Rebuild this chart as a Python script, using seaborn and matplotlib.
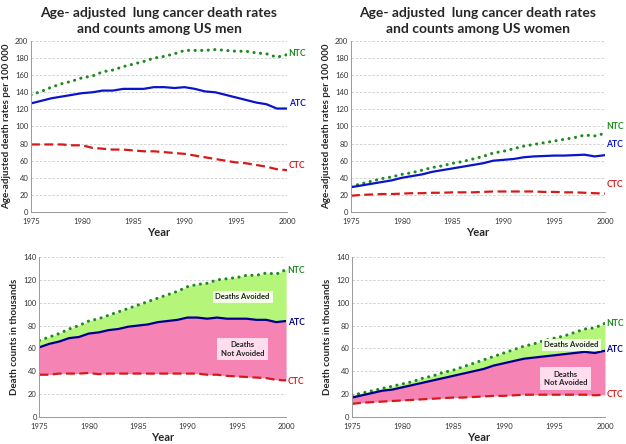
import numpy as np
import pandas as pd
import matplotlib
matplotlib.use("Agg")
import matplotlib.pyplot as plt
import seaborn as sns

years = list(range(1975, 2001))

men_rate_ntc = [137, 141, 146, 150, 153, 157, 159, 164, 166, 170, 173, 176, 180, 182, 185,
                189, 189, 189, 190, 189, 188, 188, 186, 185, 181, 184]
men_rate_atc = [127, 130, 133, 135, 137, 139, 140, 142, 142, 144, 144, 144, 146, 146, 145,
                146, 144, 141, 140, 137, 134, 131, 128, 126, 121, 121]
men_rate_ctc = [79, 79, 79, 79, 78, 78, 75, 74, 73, 73, 72, 71, 71, 70, 69,
                68, 66, 64, 62, 60, 58, 57, 55, 53, 50, 49]

women_rate_ntc = [30, 33, 36, 39, 41, 44, 46, 49, 52, 54, 57, 59, 62, 65, 69,
                  71, 74, 77, 79, 81, 83, 85, 87, 90, 89, 92]
women_rate_atc = [29, 31, 33, 35, 37, 40, 42, 44, 47, 49, 51, 53, 55, 57, 60,
                  61, 62, 64, 65, 65.5, 66, 66, 66.5, 67, 65, 66.5]
women_rate_ctc = [19, 20, 20.5, 21, 21, 21.5, 22, 22, 22.5, 22.5, 23, 23, 23, 23.5, 24,
                  24, 24, 24, 24, 23.5, 23.5, 23, 23, 22.5, 22, 21.5]

men_cnt_ntc = [67, 70, 73, 77, 80, 84, 86, 89, 92, 95, 98, 101, 104, 107, 110,
               114, 116, 117, 120, 121, 122, 124, 124, 126, 125, 129]
men_cnt_atc = [61, 64, 66, 69, 70, 73, 74, 76, 77, 79, 80, 81, 83, 84, 85,
               87, 87, 86, 87, 86, 86, 86, 85, 85, 83, 84]
men_cnt_ctc = [37, 37, 38, 38, 38, 38.5, 37.5, 38, 38, 38, 38, 38, 38, 38, 38,
               38, 38, 37, 37, 36, 35.5, 35, 34.5, 34, 32.5, 32]

women_cnt_ntc = [19, 21, 23, 25, 27, 29, 31, 34, 36, 39, 41, 44, 47, 50, 53,
                 56, 59, 62, 64, 67, 69, 71, 74, 77, 78, 82]
women_cnt_atc = [17, 19, 21, 23, 24, 26, 28, 30, 32, 34, 36, 38, 40, 42, 45,
                 47, 49, 51, 52, 53, 54, 55, 56, 57, 56, 58]
women_cnt_ctc = [11.5, 12.5, 13, 13.5, 14, 14.5, 15, 15.5, 16, 16.5, 17, 17, 17.5, 18, 18.5,
                 18.5, 19, 19.5, 19.5, 19.5, 19.5, 19.5, 19.5, 19.5, 19, 19.5]

titles = ["Age- adjusted  lung cancer death rates\nand counts among US men",
          "Age- adjusted  lung cancer death rates\nand counts among US women"]
ylab_rate = "Age-adjusted death rates per 100 000"
ylab_cnt = "Death counts in thousands"
series_names = ["NTC", "ATC", "CTC"]

sns.set_theme(style="white")
plt.rcParams['font.family'] = ['Lato', 'DejaVu Sans']

GREEN = "#1F8A1F"
BLUE_TOP = "#0A14C8"
BLUE_BOT = "#00008B"
RED = "#D61A1A"
FILL_G = "#B4F57A"
FILL_P = "#F584B4"

fig = plt.figure(figsize=(6.26, 4.44), dpi=100)
pos = {
    "tl": [0.0495, 0.5225, 0.409, 0.3852],
    "tr": [0.5607, 0.5225, 0.4057, 0.3852],
    "bl": [0.063, 0.0608, 0.394, 0.3604],
    "br": [0.5623, 0.0608, 0.4041, 0.3604],
}

def style_axes(ax, ymax, ystep, ylabel):
    ax.set_xlim(1975, 2000)
    ax.set_ylim(0, ymax)
    ax.set_xticks(range(1975, 2001, 5))
    ax.set_yticks(np.arange(0, ymax + 1, ystep))
    ax.tick_params(axis='both', labelsize=5.5, colors="#333333", length=0, pad=2)
    ax.tick_params(axis='x', length=2.5, width=0.6, direction='out', color="#888888", pad=1.5)
    for s in ["top", "right"]:
        ax.spines[s].set_visible(False)
    for s in ["left", "bottom"]:
        ax.spines[s].set_color("#999999")
        ax.spines[s].set_linewidth(0.7)
    ax.yaxis.grid(True, linestyle=(0, (3, 2)), color="#CCCCCC", linewidth=0.6)
    ax.set_axisbelow(True)
    ax.set_ylabel(ylabel, fontsize=7, fontweight='bold', labelpad=3)
    ax.set_xlabel("Year", fontsize=8, fontweight='bold', labelpad=2)

def draw_lines(ax, ntc, atc, ctc, blue, lw):
    df = pd.DataFrame({"year": years, "NTC": ntc, "ATC": atc, "CTC": ctc})
    sns.lineplot(data=df, x="year", y="NTC", ax=ax, color=GREEN, linewidth=2.2,
                 linestyle=(0, (0.05, 2.1)), dash_capstyle='round')
    sns.lineplot(data=df, x="year", y="ATC", ax=ax, color=blue, linewidth=lw)
    sns.lineplot(data=df, x="year", y="CTC", ax=ax, color=RED, linewidth=lw,
                 linestyle=(0, (4, 2)))

def end_labels(ax, ys, blue):
    for name, y, c in zip(series_names, ys, [GREEN, blue, RED]):
        ax.text(2000.15, y, name, color=c, fontsize=6.2, fontweight='bold',
                va='center', ha='left', clip_on=False)

# Top-left: men rates
ax = fig.add_axes(pos["tl"])
draw_lines(ax, men_rate_ntc, men_rate_atc, men_rate_ctc, BLUE_TOP, 1.6)
style_axes(ax, 200, 20, ylab_rate)
end_labels(ax, [185, 127, 54], BLUE_TOP)
ax.set_title(titles[0], fontsize=10, fontweight='bold', pad=6, linespacing=1.35)

# Top-right: women rates
ax = fig.add_axes(pos["tr"])
draw_lines(ax, women_rate_ntc, women_rate_atc, women_rate_ctc, BLUE_TOP, 1.6)
style_axes(ax, 200, 20, ylab_rate)
end_labels(ax, [100, 79, 32], BLUE_TOP)
ax.set_title(titles[1], fontsize=10, fontweight='bold', pad=6, linespacing=1.35)

def fills(ax, ntc, atc, ctc):
    ax.fill_between(years, atc, ntc, color=FILL_G, linewidth=0, zorder=1)
    ax.fill_between(years, ctc, atc, color=FILL_P, linewidth=0, zorder=1)

# Bottom-left: men counts
ax = fig.add_axes(pos["bl"])
fills(ax, men_cnt_ntc, men_cnt_atc, men_cnt_ctc)
draw_lines(ax, men_cnt_ntc, men_cnt_atc, men_cnt_ctc, BLUE_BOT, 1.6)
style_axes(ax, 140, 20, ylab_cnt)
end_labels(ax, [128, 83, 31], BLUE_BOT)
ax.text(1995.6, 105, "Deaths Avoided", fontsize=5.5, fontweight='bold', ha='center', va='center',
        color="#222222", bbox=dict(boxstyle='square,pad=0.35', fc="#F2FFE6", ec='none'))
ax.text(1995.6, 59.5, "Deaths\nNot Avoided", fontsize=5.5, fontweight='bold', ha='center', va='center',
        color="#222222", linespacing=1.2,
        bbox=dict(boxstyle='square,pad=0.5', fc="#FFDDEE", ec='none'))

# Bottom-right: women counts
ax = fig.add_axes(pos["br"])
fills(ax, women_cnt_ntc, women_cnt_atc, women_cnt_ctc)
draw_lines(ax, women_cnt_ntc, women_cnt_atc, women_cnt_ctc, BLUE_BOT, 1.6)
style_axes(ax, 140, 20, ylab_cnt)
end_labels(ax, [82, 59, 19.5], BLUE_BOT)
ax.text(1996.7, 63, "Deaths Avoided", fontsize=5.5, fontweight='bold', ha='center', va='center',
        color="#222222", bbox=dict(boxstyle='square,pad=0.35', fc="#F2FFE6", ec='none'))
ax.text(1996.1, 34, "Deaths\nNot Avoided", fontsize=5.5, fontweight='bold', ha='center', va='center',
        color="#222222", linespacing=1.2,
        bbox=dict(boxstyle='square,pad=0.5', fc="#FFDDEE", ec='none'))

fig.savefig("out.png", dpi=100)
